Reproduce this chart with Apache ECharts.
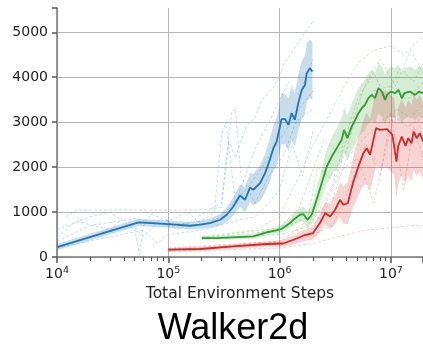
<!DOCTYPE html>
<html>
<head>
<meta charset="utf-8">
<script src="https://cdn.jsdelivr.net/npm/echarts@6/dist/echarts.min.js"></script>
<style>
html, body { margin: 0; padding: 0; background: #fff; }
#chart { width: 423px; height: 345px; }
</style>
</head>
<body>
<div id="chart"></div>
<script>
/* mean curves */
var blueSteps = [1e4, 5.4e4, 1e5, 1.57e5, 1.93e5, 2.37e5, 2.92e5, 3.35e5, 3.84e5, 4.4e5, 4.89e5, 5.42e5, 5.8e5, 6.67e5, 7.4e5, 8.2e5, 8.78e5, 9.4e5, 1.04e6, 1.12e6, 1.2e6, 1.28e6, 1.37e6, 1.47e6, 1.58e6, 1.69e6, 1.75e6, 1.87e6, 1.97e6];
var blueMean = [222, 769, 733, 695, 718, 755, 829, 940, 1124, 1369, 1273, 1547, 1496, 1644, 1867, 2178, 2422, 2569, 3067, 3067, 2940, 3200, 3051, 3422, 3718, 3829, 4089, 4200, 4124];
var blueSpread = [70, 80, 80, 80, 90, 100, 130, 160, 200, 250, 280, 320, 350, 400, 430, 480, 500, 520, 560, 560, 580, 600, 600, 620, 650, 650, 650, 650, 650];

var greenSteps = [2e5, 2.72e5, 5.8e5, 7.66e5, 1e6, 1.07e6, 1.24e6, 1.33e6, 1.52e6, 1.63e6, 1.78e6, 1.94e6, 2.15e6, 2.39e6, 2.65e6, 2.94e6, 3.26e6, 3.61e6, 3.79e6, 4.06e6, 4.44e6, 4.86e6, 5.1e6, 5.47e6, 5.85e6, 6.27e6, 6.72e6, 7.2e6, 7.7e6, 8.3e6, 8.85e6, 9.2e6, 1e7, 1.09e7, 1.17e7, 1.25e7, 1.32e7, 1.48e7, 1.65e7, 1.78e7, 1.94e7];
var greenMean = [422, 422, 458, 547, 607, 644, 755, 829, 940, 955, 829, 940, 1273, 1644, 2013, 2236, 2422, 2607, 2829, 2644, 2902, 3089, 3200, 3311, 3384, 3533, 3607, 3533, 3756, 3680, 3496, 3607, 3680, 3644, 3718, 3533, 3644, 3680, 3607, 3680, 3644];
var greenSpread = [40, 40, 50, 60, 80, 90, 110, 130, 150, 170, 180, 200, 260, 320, 380, 420, 450, 480, 500, 500, 520, 540, 550, 550, 560, 560, 560, 560, 560, 560, 560, 560, 560, 560, 560, 560, 560, 560, 560, 560, 560];

var redSteps = [1e5, 1.93e5, 3.84e5, 7.66e5, 1.07e6, 1.33e6, 1.63e6, 1.99e6, 2.3e6, 2.56e6, 2.84e6, 3.15e6, 3.49e6, 3.73e6, 4.1e6, 4.55e6, 5.1e6, 5.65e6, 6.05e6, 6.49e6, 6.95e6, 7.35e6, 7.97e6, 9.2e6, 1.03e7, 1.07e7, 1.12e7, 1.16e7, 1.25e7, 1.35e7, 1.43e7, 1.53e7, 1.6e7, 1.7e7, 1.82e7, 1.94e7];
var redMean = [162, 178, 236, 289, 300, 384, 473, 533, 755, 978, 902, 1051, 1273, 1162, 1200, 1644, 2013, 2311, 2422, 2273, 2607, 2867, 2829, 2844, 2718, 2680, 2124, 2458, 2680, 2473, 2644, 2533, 2791, 2644, 2756, 2569];
var redSpread = [40, 40, 50, 60, 80, 100, 120, 150, 200, 250, 280, 320, 380, 420, 470, 550, 640, 720, 780, 800, 830, 850, 850, 850, 850, 850, 850, 850, 850, 850, 850, 850, 850, 850, 850, 850];

/* a few of the faint dashed single runs */
var blueRuns = [
	[[1.2e4, 900], [1.5e4, 1040], [5e4, 1050], [1e5, 1040], [2e5, 1050], [3e5, 1100], [3.5e5, 2600], [4e5, 2200], [5e5, 2900], [6e5, 3100], [7e5, 3500], [9e5, 3800], [1.1e6, 4300], [1.4e6, 4700], [1.7e6, 5000], [2e6, 5250]],
	[[1e4, 200], [3e4, 450], [6e4, 600], [8e4, 300], [1e5, 500], [2e5, 600], [4e5, 800], [6e5, 900], [8e5, 1200], [1e6, 1500], [1.3e6, 2500], [1.6e6, 1800], [2e6, 2800]],
	[[1e4, 350], [2e4, 700], [5e4, 850], [1e5, 700], [2e5, 800], [2.6e5, 1000], [3e5, 2700], [3.3e5, 3000], [4e5, 1200], [6e5, 2400], [8e5, 3000], [1e6, 3500], [1.2e6, 3900], [1.5e6, 3600], [2e6, 4400]],
	[[1e4, 600], [2e4, 900], [3e4, 1000], [5e4, 600], [5.5e4, 50], [6e4, 700], [7e4, 950], [1e5, 800], [1.5e5, 1000], [2e5, 700], [3e5, 900], [5e5, 1500], [7e5, 2000], [1e6, 2600], [1.5e6, 3300], [2e6, 3700]],
	[[1e4, 450], [1.5e4, 800], [3e4, 600], [4e4, 900], [6e4, 450], [9e4, 900], [1.2e5, 600], [2e5, 950], [3e5, 1200], [3.7e5, 3200], [4e5, 3300], [4.5e5, 1800], [6e5, 1200], [8e5, 1800], [1.1e6, 2300], [1.4e6, 3000], [2e6, 3300]]
];
var greenRuns = [
	[[2e5, 450], [6e5, 600], [1e6, 900], [1.5e6, 1800], [2e6, 2500], [3e6, 3300], [4e6, 3900], [5e6, 4300], [7e6, 4600], [1e7, 4700], [1.3e7, 4500], [1.94e7, 4900]],
	[[2e5, 400], [1e6, 500], [2e6, 700], [3e6, 1300], [4e6, 2200], [6e6, 2700], [8e6, 3000], [1e7, 3200], [1.4e7, 2900], [1.94e7, 3100]],
	[[2e5, 430], [1e6, 650], [1.5e6, 1100], [2.5e6, 2600], [3.5e6, 2300], [5e6, 3500], [7e6, 4100], [9e6, 3500], [1.2e7, 4200], [1.6e7, 3900], [1.94e7, 4300]],
	[[2e5, 420], [1e6, 600], [1.8e6, 900], [2.2e6, 2000], [3e6, 1700], [4.5e6, 3000], [6e6, 3900], [8e6, 4400], [1.1e7, 3800], [1.5e7, 4600], [1.94e7, 4100]]
];
var redRuns = [
	[[1e5, 200], [1e6, 350], [2e6, 800], [3e6, 1600], [4e6, 2400], [5e6, 3200], [7e6, 3700], [1e7, 3800], [1.4e7, 3500], [1.94e7, 3900]],
	[[1e5, 120], [1e6, 200], [2e6, 300], [4e6, 500], [6e6, 600], [1e7, 650], [1.5e7, 700], [1.94e7, 700]],
	[[1e5, 150], [1e6, 280], [2e6, 500], [3e6, 700], [4e6, 1400], [6e6, 2500], [8e6, 1800], [1e7, 3200], [1.3e7, 1500], [1.6e7, 2900], [1.94e7, 2200]],
	[[1e5, 180], [1e6, 320], [2.5e6, 1100], [3.5e6, 1900], [5e6, 2200], [7e6, 1200], [9e6, 2400], [1.1e7, 3300], [1.5e7, 3100], [1.94e7, 3400]]
];

var majorTicks = [1e4, 1e5, 1e6, 1e7];
var yTicks = [0, 1000, 2000, 3000, 4000, 5000];

var minorTicks = [];
majorTicks.forEach(function (d) {
	for (var k = 2; k <= 9; k++) {
		if (d * k < 1.94e7) minorTicks.push(d * k);
	}
});

function graphic() {
	var dom = document.getElementById('chart');
	var myChart = echarts.init(dom, null, { renderer: 'canvas' });
	var axisColor = '#777';
	var txt = '#222';
	var series = [];

	function addRuns(runs, color) {
		runs.forEach(function (r) {
			series.push({
				type: 'line', data: r, symbol: 'none', silent: true, z: 1,
				lineStyle: { color: color, width: 1, type: [3, 2], opacity: 0.4 }
			});
		});
	}
	// shaded band: one polygon, upper edge then lower edge back
	function addBand(steps, mean, spread, color) {
		var data = steps.map(function (s, i) { return [s, mean[i] - spread[i], mean[i] + spread[i]]; });
		series.push({
			type: 'custom', silent: true, z: 2,
			data: data,
			encode: { x: 0, y: [1, 2] },
			renderItem: function (params, api) {
				if (params.dataIndex !== 0) return;
				var pts = [];
				data.forEach(function (d) { pts.push(api.coord([d[0], d[2]])); });
				for (var i = data.length - 1; i >= 0; i--) pts.push(api.coord([data[i][0], data[i][1]]));
				return {
					type: 'polygon',
					shape: { points: pts },
					style: { fill: color }
				};
			}
		});
	}
	function addMean(steps, mean, color) {
		series.push({
			type: 'line', symbol: 'none', z: 5,
			data: steps.map(function (s, i) { return [s, mean[i]]; }),
			lineStyle: { color: color, width: 1.8 }
		});
	}

	addRuns(blueRuns, '#6fa8d6');
	addRuns(greenRuns, '#7cc47c');
	addRuns(redRuns, '#e88a8a');
	addBand(blueSteps, blueMean, blueSpread, 'rgba(31,119,180,0.25)');
	addBand(greenSteps, greenMean, greenSpread, 'rgba(44,160,44,0.2)');
	addBand(redSteps, redMean, redSpread, 'rgba(214,39,40,0.2)');
	addMean(blueSteps, blueMean, '#1f77b4');
	addMean(greenSteps, greenMean, '#2ca02c');
	addMean(redSteps, redMean, '#d62728');

	var option = {
		animation: false,
		title: {
			text: 'Walker2d',
			left: 228, top: 306, textAlign: 'center',
			textStyle: { fontFamily: 'Liberation Sans', fontSize: 36, fontWeight: 'normal', color: '#000' }
		},
		grid: { left: 57, right: 0, top: 8, bottom: 88 },
		xAxis: {
			type: 'log', logBase: 10, min: 1e4, max: 1.94e7,
			name: 'Total Environment Steps', nameLocation: 'middle', nameGap: 29,
			nameTextStyle: { fontFamily: 'DejaVu Sans', fontSize: 15.5, color: txt },
			axisLine: { show: true, lineStyle: { color: axisColor, width: 1.5 } },
			axisTick: { show: true, inside: false, length: 6, lineStyle: { color: '#555', width: 1.5 } },
			axisLabel: {
				customValues: majorTicks, margin: 9,
				formatter: function (v) {
					return '{b|10}{s|' + Math.round(Math.log10(v)) + '}';
				},
				rich: {
					b: { fontFamily: 'DejaVu Sans', fontSize: 14, color: txt, lineHeight: 16 },
					s: { fontFamily: 'DejaVu Sans', fontSize: 9.5, color: txt, lineHeight: 10, verticalAlign: 'top' }
				}
			},
			splitLine: { show: true, lineStyle: { color: '#b5b5b5', width: 1 } }
		},
		yAxis: {
			type: 'value', min: 0, max: 5540, interval: 1000,
			axisLine: { show: true, lineStyle: { color: axisColor, width: 1.5 } },
			axisTick: { show: true, inside: false, length: 5, lineStyle: { color: '#555', width: 1.5 } },
			axisLabel: {
				customValues: yTicks, margin: 9, fontFamily: 'DejaVu Sans', fontSize: 14, color: txt,
				formatter: function (v) { return String(v); }
			},
			splitLine: { show: true, showMaxLine: false, lineStyle: { color: '#b5b5b5', width: 1 } }
		},
		series: series
	};
	myChart.setOption(option);

	// minor log ticks, placed through the chart's own scale
	var ticks = [];
	minorTicks.forEach(function (v) {
		var p = myChart.convertToPixel({ gridIndex: 0 }, [v, 0]);
		var x = Math.round(p[0] - 0.5) + 0.5;
		ticks.push({
			type: 'line', silent: true, z: 100,
			shape: { x1: x, y1: p[1], x2: x, y2: p[1] + 4 },
			style: { stroke: '#555', lineWidth: 1.2 }
		});
	});
	myChart.setOption({ graphic: { elements: ticks } });

	window.addEventListener('resize', myChart.resize);
}
graphic();
</script>
</body>
</html>
